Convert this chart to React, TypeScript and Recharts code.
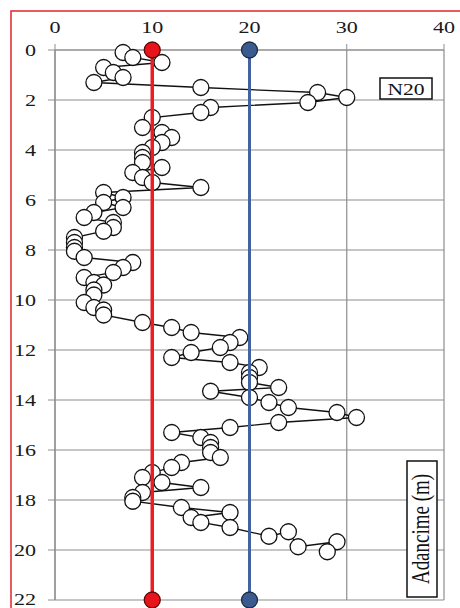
import React from "react";
import { ScatterChart, Scatter, XAxis, YAxis, CartesianGrid } from "recharts";

// SPT blow counts (N20), with their depth in metres
const nValues = [
  7, 8, 11, 5, 6, 7, 4, 15, 27, 30, 26, 16, 15, 10, 9, 11, 12, 11, 10, 9,
  9, 9, 11, 8, 9, 10, 15, 5, 7, 5, 7, 4, 3, 6, 6, 5, 2, 2, 2, 2,
  3, 8, 7, 6, 3, 4, 5, 4, 4, 3, 4, 5, 5, 9, 12, 14, 19, 18, 17, 14,
  12, 18, 21, 20, 20, 20, 23, 16, 20, 22, 24, 29, 31, 23, 18, 12, 15, 16, 16, 16,
  17, 13, 12, 10, 9, 11, 15, 9, 8, 8, 13, 18, 14, 15, 18, 22, 24, 25, 29, 28,
];
const depths = [
  0.1, 0.3, 0.5, 0.7, 0.9, 1.1, 1.3, 1.5, 1.7, 1.9, 2.1, 2.3, 2.5, 2.7, 3.1, 3.3, 3.5, 3.7, 3.9, 4.1,
  4.3, 4.5, 4.7, 4.9, 5.1, 5.3, 5.5, 5.7, 5.9, 6.1, 6.3, 6.5, 6.7, 6.9, 7.1, 7.25, 7.5, 7.7, 7.9, 8.05,
  8.3, 8.5, 8.7, 8.9, 9.1, 9.3, 9.4, 9.6, 9.8, 10.1, 10.3, 10.4, 10.6, 10.9, 11.1, 11.3, 11.5, 11.7, 11.9, 12.1,
  12.3, 12.5, 12.7, 12.9, 13.1, 13.3, 13.5, 13.65, 13.9, 14.1, 14.3, 14.5, 14.7, 14.9, 15.1, 15.3, 15.5, 15.7, 15.9, 16.1,
  16.3, 16.5, 16.7, 16.9, 17.1, 17.3, 17.5, 17.7, 17.9, 18.05, 18.3, 18.5, 18.7, 18.9, 19.1, 19.45, 19.27, 19.87, 19.67, 20.07,
];

const xTicks = [0, 10, 20, 30, 40];
const yTicks = [0, 2, 4, 6, 8, 10, 12, 14, 16, 18, 20, 22];

const redLimit = 10;
const blueLimit = 20;
const limitDepths = [0, 22];

const profile = nValues.map((n, i) => ({ n, d: depths[i] }));
const redLine = limitDepths.map((d) => ({ n: redLimit, d }));
const blueLine = limitDepths.map((d) => ({ n: blueLimit, d }));

const serif = "'Liberation Serif', 'Times New Roman', serif";

const TopTick = (props: any) => {
  const { x, y, payload } = props;
  return (
    <g transform={`translate(${x},${y}) scale(1.3,1)`}>
      <text x={0} y={0} textAnchor="middle" fontFamily={serif} fontSize={17} fill="#1a1a1a">
        {payload.value}
      </text>
    </g>
  );
};

const LeftTick = (props: any) => {
  const { x, y, payload } = props;
  return (
    <g transform={`translate(${x},${y}) scale(1.3,1)`}>
      <text x={0} y={0} dy={6} textAnchor="end" fontFamily={serif} fontSize={17} fill="#1a1a1a">
        {payload.value}
      </text>
    </g>
  );
};

const whiteDot = (p: any) => (
  <circle cx={p.cx} cy={p.cy} r={8} fill="#fff" stroke="#111" strokeWidth={1.3} />
);
const redDot = (p: any) => (
  <circle cx={p.cx} cy={p.cy} r={8} fill="#e8141c" stroke="#5a0a0a" strokeWidth={1.3} />
);
const blueDot = (p: any) => (
  <circle cx={p.cx} cy={p.cy} r={8} fill="#3b5b8f" stroke="#1c2c4a" strokeWidth={1.3} />
);

export default function App() {
  return (
    <div
      style={{
        position: "absolute",
        left: 0,
        top: 0,
        width: 460,
        height: 608,
        overflow: "hidden",
        background: "#fff",
      }}
    >
      <ScatterChart width={460} height={608} margin={{ top: 0, right: 16, bottom: 8, left: 0 }}>
        <CartesianGrid stroke="#8e8e8e" strokeWidth={1.2} />
        <XAxis
          type="number"
          dataKey="n"
          orientation="top"
          domain={[0, 40]}
          ticks={xTicks}
          height={50}
          tickSize={6}
          tickMargin={11}
          axisLine={{ stroke: "#8e8e8e", strokeWidth: 1.2 }}
          tickLine={{ stroke: "#8e8e8e" }}
          tick={<TopTick />}
        />
        <YAxis
          type="number"
          dataKey="d"
          domain={[0, 22]}
          ticks={yTicks}
          reversed
          width={55}
          tickSize={7}
          tickMargin={12}
          axisLine={{ stroke: "#8e8e8e", strokeWidth: 1.2 }}
          tickLine={{ stroke: "#8e8e8e" }}
          tick={<LeftTick />}
        />
        <Scatter
          data={profile}
          line={{ stroke: "#111", strokeWidth: 1.3 }}
          lineType="joint"
          shape={whiteDot}
          isAnimationActive={false}
        />
        <Scatter
          data={redLine}
          line={{ stroke: "#ee1c24", strokeWidth: 3.5 }}
          lineType="joint"
          shape={redDot}
          isAnimationActive={false}
        />
        <Scatter
          data={blueLine}
          line={{ stroke: "#4263a0", strokeWidth: 3 }}
          lineType="joint"
          shape={blueDot}
          isAnimationActive={false}
        />
      </ScatterChart>
      <svg
        width={460}
        height={608}
        style={{ position: "absolute", left: 0, top: 0, pointerEvents: "none" }}
      >
        <rect x={11} y={11} width={520} height={700} fill="none" stroke="#e0262c" strokeWidth={1.5} />
        <rect x={380} y={78} width={52} height={21} fill="#fff" stroke="#111" strokeWidth={1.5} />
        <g transform="translate(406,95) scale(1.35,1)">
          <text x={0} y={0} textAnchor="middle" fontFamily={serif} fontSize={16} fill="#111">
            N20
          </text>
        </g>
        <rect x={407} y={461} width={30} height={136} fill="#fff" stroke="#111" strokeWidth={1.5} />
        <g transform="translate(428.5,529) scale(1.3,1) rotate(-90)">
          <text x={0} y={0} textAnchor="middle" fontFamily={serif} fontSize={19} fill="#111">
            Adancime (m)
          </text>
        </g>
      </svg>
    </div>
  );
}
